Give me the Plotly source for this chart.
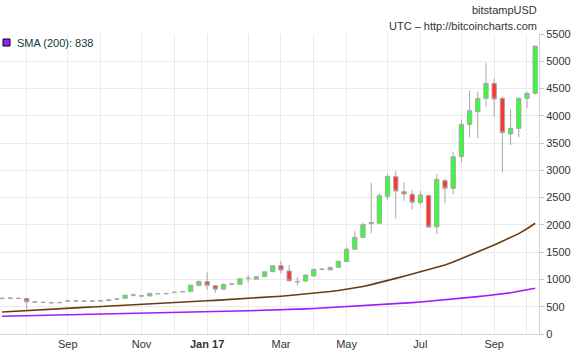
import pandas as pd
import plotly.graph_objects as go

# Weekly candles (Monday of each week), bitstampUSD
weeks = pd.date_range("2016-07-11", periods=66, freq="7D")

opens = [650, 655, 656, 650, 590, 582, 578, 572, 604, 606, 606, 600,
         606, 612, 638, 654, 712, 700, 697, 740, 738, 762, 772, 778,
         888, 960, 886, 822, 915, 912, 1018, 1005, 1052, 1142, 1252, 1155,
         962, 970, 1065, 1183, 1175, 1222, 1328, 1553, 1772, 2025, 2030, 2525,
         2884, 2609, 2561, 2410, 2540, 1967, 2811, 2670, 3251, 3843, 4076, 4320,
         4595, 4320, 3667, 3771, 4320, 4412]
highs = [668, 668, 662, 655, 600, 590, 585, 580, 612, 612, 610, 610,
         615, 640, 645, 720, 740, 715, 752, 752, 760, 772, 790, 905,
         980, 1130, 900, 925, 925, 1020, 1082, 1058, 1145, 1265, 1340, 1265,
         1050, 1090, 1195, 1210, 1235, 1345, 1590, 1885, 2040, 2770, 2580, 2930,
         2985, 2780, 2640, 2622, 2550, 2927, 2854, 3343, 3935, 4460, 4442, 4974,
         4687, 4351, 4119, 4339, 4442, 5280]
lows = [640, 645, 640, 450, 570, 565, 565, 565, 598, 600, 595, 596,
        603, 610, 630, 650, 690, 690, 695, 730, 730, 755, 765, 775,
        880, 810, 750, 815, 905, 905, 945, 1000, 1050, 1140, 1110, 960,
        890, 960, 1060, 1165, 1170, 1215, 1325, 1545, 1770, 1846, 2025, 2456,
        2120, 2444, 2285, 2365, 1950, 1833, 2395, 2561, 3147, 3605, 3587, 4168,
        3984, 2964, 3465, 3605, 4137, 4394]
closes = [655, 656, 652, 590, 585, 578, 572, 578, 606, 606, 600, 606,
          610, 625, 642, 712, 715, 697, 745, 738, 742, 766, 778, 896,
          964, 892, 822, 910, 918, 1012, 1022, 1050, 1140, 1250, 1173, 975,
          958, 1082, 1186, 1188, 1222, 1333, 1553, 1772, 2004, 2045, 2534, 2890,
          2622, 2567, 2414, 2548, 1960, 2835, 2670, 3251, 3843, 4094, 4320, 4595,
          4308, 3691, 3771, 4320, 4412, 5280]

sma_short = [402, 412, 422, 432, 440, 448, 456, 464, 472, 480, 488, 496,
             503, 510, 517, 525, 532, 539, 547, 555, 563, 571, 580, 589,
             599, 609, 617, 625, 633, 641, 650, 660, 670, 681, 693, 705,
             717, 730, 745, 760, 778, 798, 820, 845, 872, 905, 940, 978,
             1020, 1060, 1100, 1140, 1180, 1220, 1265, 1320, 1380, 1440, 1505, 1570,
             1630, 1700, 1770, 1840, 1930, 2030]
sma_200 = [325, 328, 332, 335, 339, 342, 345, 349, 352, 355, 359, 362,
           366, 369, 372, 376, 379, 383, 386, 389, 393, 396, 399, 403,
           406, 410, 413, 416, 420, 423, 426, 430, 433, 437, 440, 447,
           454, 461, 468, 476, 484, 492, 500, 508, 516, 525, 534, 544,
           554, 565, 576, 588, 600, 613, 626, 640, 655, 670, 686, 702,
           718, 736, 756, 785, 810, 838]

grid_dates = ["2016-08-01", "2016-09-05", "2016-10-03", "2016-11-07", "2016-12-05",
              "2017-01-02", "2017-02-06", "2017-03-06", "2017-04-03", "2017-05-01",
              "2017-06-05", "2017-07-03", "2017-08-07", "2017-09-04", "2017-10-02"]
grid_labels = ["", "Sep", "", "Nov", "", "<b>Jan 17</b>", "", "Mar", "", "May",
               "", "Jul", "", "Sep", ""]

y_ticks = [0, 500, 1000, 1500, 2000, 2500, 3000, 3500, 4000, 4500, 5000, 5500]

FONT = "Liberation Sans, Arial, sans-serif"

fig = go.Figure()
fig.add_trace(go.Scatter(x=weeks, y=sma_200, mode="lines",
                         line=dict(color="#9a1cff", width=1.6), hoverinfo="skip"))
fig.add_trace(go.Scatter(x=weeks, y=sma_short, mode="lines",
                         line=dict(color="#6a3a10", width=1.6), hoverinfo="skip"))
fig.add_trace(go.Candlestick(
    x=weeks, open=opens, high=highs, low=lows, close=closes,
    increasing=dict(line=dict(color="#a8a8a8", width=1), fillcolor="#33ff33"),
    decreasing=dict(line=dict(color="#a8a8a8", width=1), fillcolor="#ff3333"),
    whiskerwidth=0,
))

fig.update_layout(
    width=577, height=356,
    margin=dict(l=0, r=38, t=34, b=22),
    paper_bgcolor="white", plot_bgcolor="white",
    showlegend=False,
    boxgap=0.25,
    font=dict(family=FONT, size=11, color="#333333"),
    xaxis=dict(
        type="date",
        range=["2016-07-09 05:00", "2017-10-12 06:00"],
        rangeslider=dict(visible=False),
        tickmode="array", tickvals=grid_dates, ticktext=grid_labels,
        showgrid=True, gridcolor="#ebebeb", gridwidth=1,
        showline=True, linecolor="#d4d4d4", linewidth=1,
        ticks="", zeroline=False,
        tickfont=dict(family=FONT, size=11, color="#333333"),
    ),
    yaxis=dict(
        side="right", range=[0, 5500],
        tickmode="array", tickvals=y_ticks,
        showgrid=True, gridcolor="#ebebeb", gridwidth=1,
        showline=True, linecolor="#d4d4d4", linewidth=1,
        ticks="outside", ticklen=4, tickcolor="#c8c8c8",
        zeroline=False,
        tickfont=dict(family=FONT, size=11, color="#333333"),
    ),
)

fig.add_annotation(text="bitstampUSD", xref="paper", yref="paper", x=1, y=1,
                   xanchor="right", yanchor="middle", yshift=24, showarrow=False,
                   font=dict(family=FONT, size=11, color="#333333"))
fig.add_annotation(text="UTC \u2013 http://bitcoincharts.com", xref="paper", yref="paper",
                   x=1, y=1, xanchor="right", yanchor="middle", yshift=8, showarrow=False,
                   font=dict(family=FONT, size=11, color="#333333"))
fig.add_annotation(text="SMA (200): 838", xref="paper", yref="paper", x=15 / 539, y=1,
                   xanchor="left", yanchor="middle", yshift=-8.5, showarrow=False,
                   font=dict(family=FONT, size=11, color="#0e3a3a"))
fig.add_shape(type="rect", xref="paper", yref="paper",
              x0=3 / 539, x1=10 / 539, y0=1 - 12 / 300, y1=1 - 5 / 300,
              line=dict(color="#000000", width=1), fillcolor="#9a1cff")

fig.write_html("out.html", config={"displayModeBar": False},
               post_script="document.body.style.margin='0px';document.body.style.overflow='hidden';")
